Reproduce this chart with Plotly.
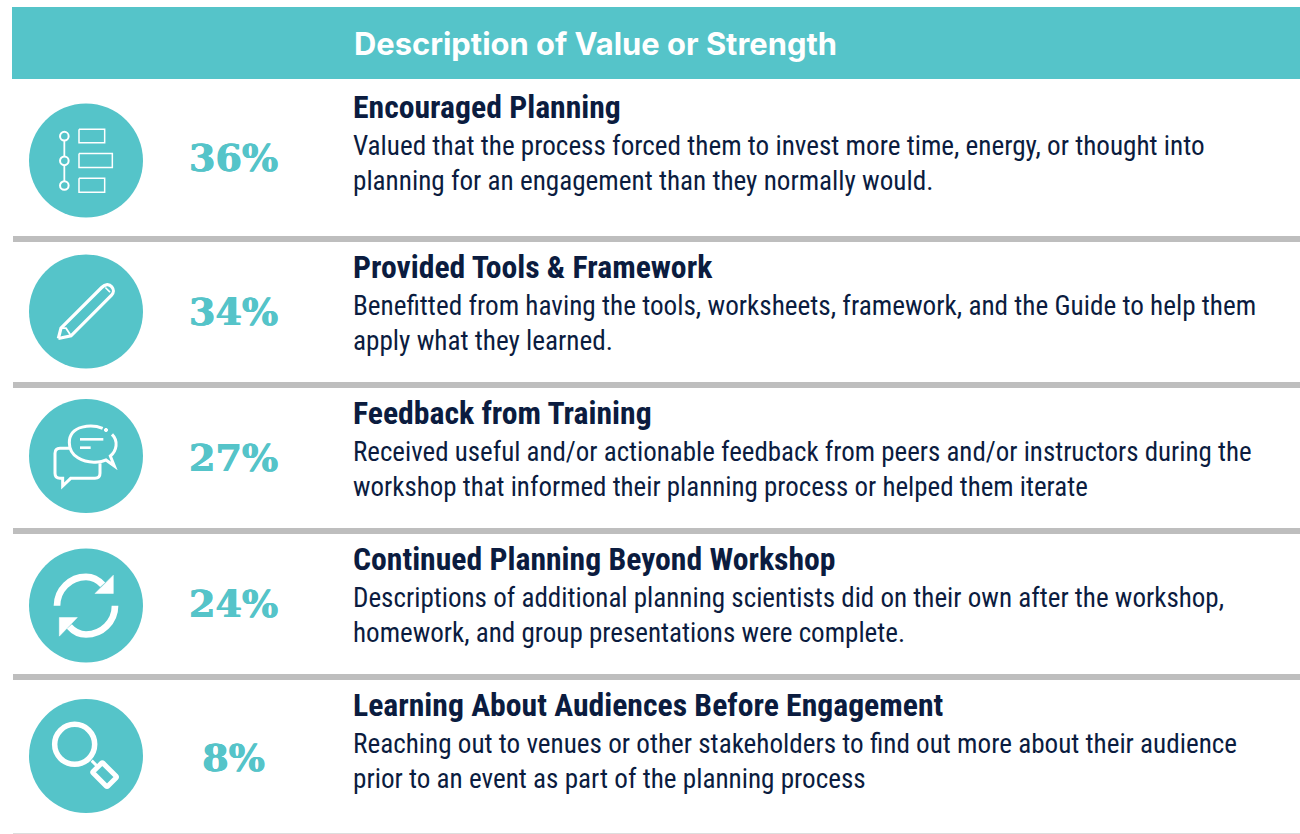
import plotly.graph_objects as go

# ---- content ----
HEADER = "Description of Value or Strength"
PERCENTS = [36, 34, 27, 24, 8]
TITLES = [
    "Encouraged Planning",
    "Provided Tools & Framework",
    "Feedback from Training",
    "Continued Planning Beyond Workshop",
    "Learning About Audiences Before Engagement",
]
DESC_FIRST = [
    "Valued that the process forced them to invest more time, energy, or thought into",
    "Benefitted from having the tools, worksheets, framework, and the Guide to help them",
    "Received useful and/or actionable feedback from peers and/or instructors during the",
    "Descriptions of additional planning scientists did on their own after the workshop,",
    "Reaching out to venues or other stakeholders to find out more about their audience",
]
DESC_SECOND = [
    "planning for an engagement than they normally would.",
    "apply what they learned.",
    "workshop that informed their planning process or helped them iterate",
    "homework, and group presentations were complete.",
    "prior to an event as part of the planning process",
]

# ---- style / layout ----
TEAL = "#55C4C9"
GREY = "#BEBEBE"
NAVY = "#0B1C3F"
NARROW = "Roboto Condensed"
CIRCLE_X = 86
CIRCLE_R = 57
CIRCLE_Y = [160.5, 311.5, 456, 605.5, 756]
PCT_X = 233.5
PCT_Y = [161, 315, 461, 607, 761]
TEXT_X = 351
TITLE_Y = [107, 267, 413, 559, 705]
LINE1_OFF = 39
LINE2_OFF = 74
DESC_SIZE = [27.15, 27.2, 26.95, 27.05, 27.15]
DIVIDERS = [(236, 242), (382, 388), (528, 534), (674, 680)]

shapes = []


def add_path(path, cx, cy, scale=1 / 3, width=2.0, fill=None):
    """path: list of (cmd, x, y, ...) in icon-local units around the circle centre."""
    out = []
    for seg in path:
        cmd = seg[0]
        vals = seg[1:]
        coords = []
        for i in range(0, len(vals), 2):
            coords.append(f"{cx + vals[i] * scale:.2f},{cy + vals[i + 1] * scale:.2f}")
        out.append(cmd + " ".join(coords))
    d = " ".join(out)
    if fill:
        d += " Z"
    shapes.append(dict(type="path", path=d, xref="x", yref="y",
                       line=dict(color="white", width=width),
                       fillcolor=fill if fill else "rgba(0,0,0,0)"))


def add_ring(cx, cy, r, width, fill=TEAL):
    shapes.append(dict(type="circle", xref="x", yref="y", x0=cx - r, x1=cx + r, y0=cy - r, y1=cy + r,
                       line=dict(color="white", width=width), fillcolor=fill))


def rect(x0, y0, x1, y1):
    return [("M", x0, y0), ("L", x1, y0), ("L", x1, y1), ("L", x0, y1), ("L", x0, y0)]


# header band + dividers
shapes.append(dict(type="rect", xref="x", yref="y", x0=12, x1=1300, y0=7, y1=79, fillcolor=TEAL, line_width=0))
for top, bot in DIVIDERS:
    shapes.append(dict(type="rect", xref="x", yref="y", x0=13, x1=1300, y0=top, y1=bot, fillcolor=GREY, line_width=0))
shapes.append(dict(type="rect", xref="x", yref="y", x0=13, x1=1300, y0=833, y1=834, fillcolor="#DDDDDD", line_width=0))

# teal discs
for cy in CIRCLE_Y:
    shapes.append(dict(type="circle", xref="x", yref="y", x0=CIRCLE_X - CIRCLE_R, x1=CIRCLE_X + CIRCLE_R,
                       y0=cy - CIRCLE_R, y1=cy + CIRCLE_R, fillcolor=TEAL, line_width=0))

# --- icon 1: stepped list
cy = CIRCLE_Y[0]
add_path([("M", -65, -73), ("L", -65, 75)], CIRCLE_X, cy, width=1.8)
for dy in (-73, 1, 75):
    add_ring(CIRCLE_X - 65 / 3, cy + dy / 3, 4.3, 2)
add_path(rect(-21, -94, 56, -53), CIRCLE_X, cy, width=1.5)
add_path(rect(-21, -21, 79, 21), CIRCLE_X, cy, width=1.5)
add_path(rect(-21, 53, 56, 95), CIRCLE_X, cy, width=1.5)

# --- icon 2: pencil
cy = CIRCLE_Y[1]
add_path([("M", -83, 81), ("L", -75, 50), ("L", 47, -72), ("C", 58, -83, 70, -83, 77, -74),
          ("C", 85, -64, 85, -58, 76, -48), ("L", -45, 73), ("L", -83, 81)], CIRCLE_X, cy, width=3.2)
add_path([("M", -75, 50), ("L", -60, 50), ("L", -45, 73)], CIRCLE_X, cy, width=1.8)
add_path([("M", 58, -72), ("L", 72, -58)], CIRCLE_X, cy, width=1.6)

# --- icon 3: speech bubbles
cy = CIRCLE_Y[2]
add_path([("M", -50, -23), ("L", -78, -23), ("Q", -93, -23, -93, -8), ("L", -93, 52), ("Q", -93, 67, -78, 67),
          ("L", -70, 67), ("L", -70, 90), ("L", -46, 67), ("L", 27, 67), ("Q", 42, 67, 42, 52), ("L", 42, 22)],
         CIRCLE_X, cy, width=3)
add_path([("M", 50, -83), ("C", 20, -95, -50, -95, -50, -40), ("C", -50, 0, -10, 22, 35, 18),
          ("C", 45, 18, 55, 14, 60, 12), ("L", 85, 30), ("L", 73, 0),
          ("C", 92, -15, 98, -45, 78, -65)], CIRCLE_X, cy, width=3)
add_ring(CIRCLE_X + 60 / 3, cy - 78 / 3, 1.6, 1, fill="white")
add_path([("M", -18, -50), ("L", 52, -50)], CIRCLE_X, cy, width=2.6)
add_path([("M", -18, -25), ("L", 14, -25)], CIRCLE_X, cy, width=2.6)

# --- icon 4: refresh arrows
cy = CIRCLE_Y[3]
add_path([("M", -87, 1), ("C", -87, -47, -48, -86, 0, -86), ("C", 18, -86, 36, -78, 50, -62)],
         CIRCLE_X, cy, width=6.7)
add_path([("M", 82, -91), ("L", 82, -36), ("L", 27, -36)], CIRCLE_X, cy, width=0.5, fill="white")
add_path([("M", 87, 1), ("C", 87, 49, 48, 87, 0, 87), ("C", -18, 87, -36, 79, -50, 63)],
         CIRCLE_X, cy, width=6.7)
add_path([("M", -80, 92), ("L", -80, 36), ("L", -26, 36)], CIRCLE_X, cy, width=0.5, fill="white")

# --- icon 5: magnifier
cy = CIRCLE_Y[4]
add_ring(CIRCLE_X - 34 / 3, cy - 35 / 3, 20, 5.5)
add_path([("M", 17, 14), ("L", 35, 32)], CIRCLE_X, cy, width=3)
add_path([("M", 21.4, 46.8), ("L", 46.8, 21.4), ("Q", 48.9, 19.3, 51, 21.4), ("L", 90.6, 61),
          ("Q", 92.7, 63.1, 90.6, 65.2), ("L", 65.2, 90.6), ("Q", 63.1, 92.7, 61, 90.6),
          ("L", 21.4, 51), ("Q", 19.3, 48.9, 21.4, 46.8)], CIRCLE_X, cy, width=5)

# ---- text ----
annotations = [dict(x=352, y=43, text=HEADER, xanchor="left", yanchor="middle", showarrow=False,
                    font=dict(family="Inter", size=30.9, color="white", weight=700))]
for i in range(len(TITLES)):
    y = TITLE_Y[i]
    annotations.append(dict(x=TEXT_X, y=y, text=TITLES[i].replace("&", "&amp;"), xanchor="left", yanchor="middle",
                            showarrow=False, font=dict(family=NARROW, size=31.7, color=NAVY, weight=700)))
    annotations.append(dict(x=TEXT_X, y=y + LINE1_OFF, text=DESC_FIRST[i], xanchor="left", yanchor="middle",
                            showarrow=False, font=dict(family=NARROW, size=DESC_SIZE[i], color=NAVY)))
    annotations.append(dict(x=TEXT_X, y=y + LINE2_OFF, text=DESC_SECOND[i], xanchor="left", yanchor="middle",
                            showarrow=False, font=dict(family=NARROW, size=DESC_SIZE[i], color=NAVY)))

fig = go.Figure()
fig.add_trace(go.Scatter(x=[PCT_X] * len(PERCENTS), y=PCT_Y, mode="text",
                         text=[f"{v}%" for v in PERCENTS], textposition="middle center",
                         textfont=dict(family="DejaVu Serif", size=38, color=TEAL, weight=700,
                                       shadow=f"0.5px 0 0 {TEAL}, -0.5px 0 0 {TEAL}"),
                         hoverinfo="skip", showlegend=False))
fig.update_layout(width=1300, height=834, margin=dict(l=0, r=0, t=0, b=0),
                  paper_bgcolor="white", plot_bgcolor="white", showlegend=False,
                  shapes=shapes, annotations=annotations,
                  xaxis=dict(range=[0, 1300], visible=False, fixedrange=True),
                  yaxis=dict(range=[834, 0], visible=False, fixedrange=True))
fig.write_html("out.html", config={"displayModeBar": False},
               post_script="document.body.style.margin='0';document.documentElement.style.overflow='hidden';")
